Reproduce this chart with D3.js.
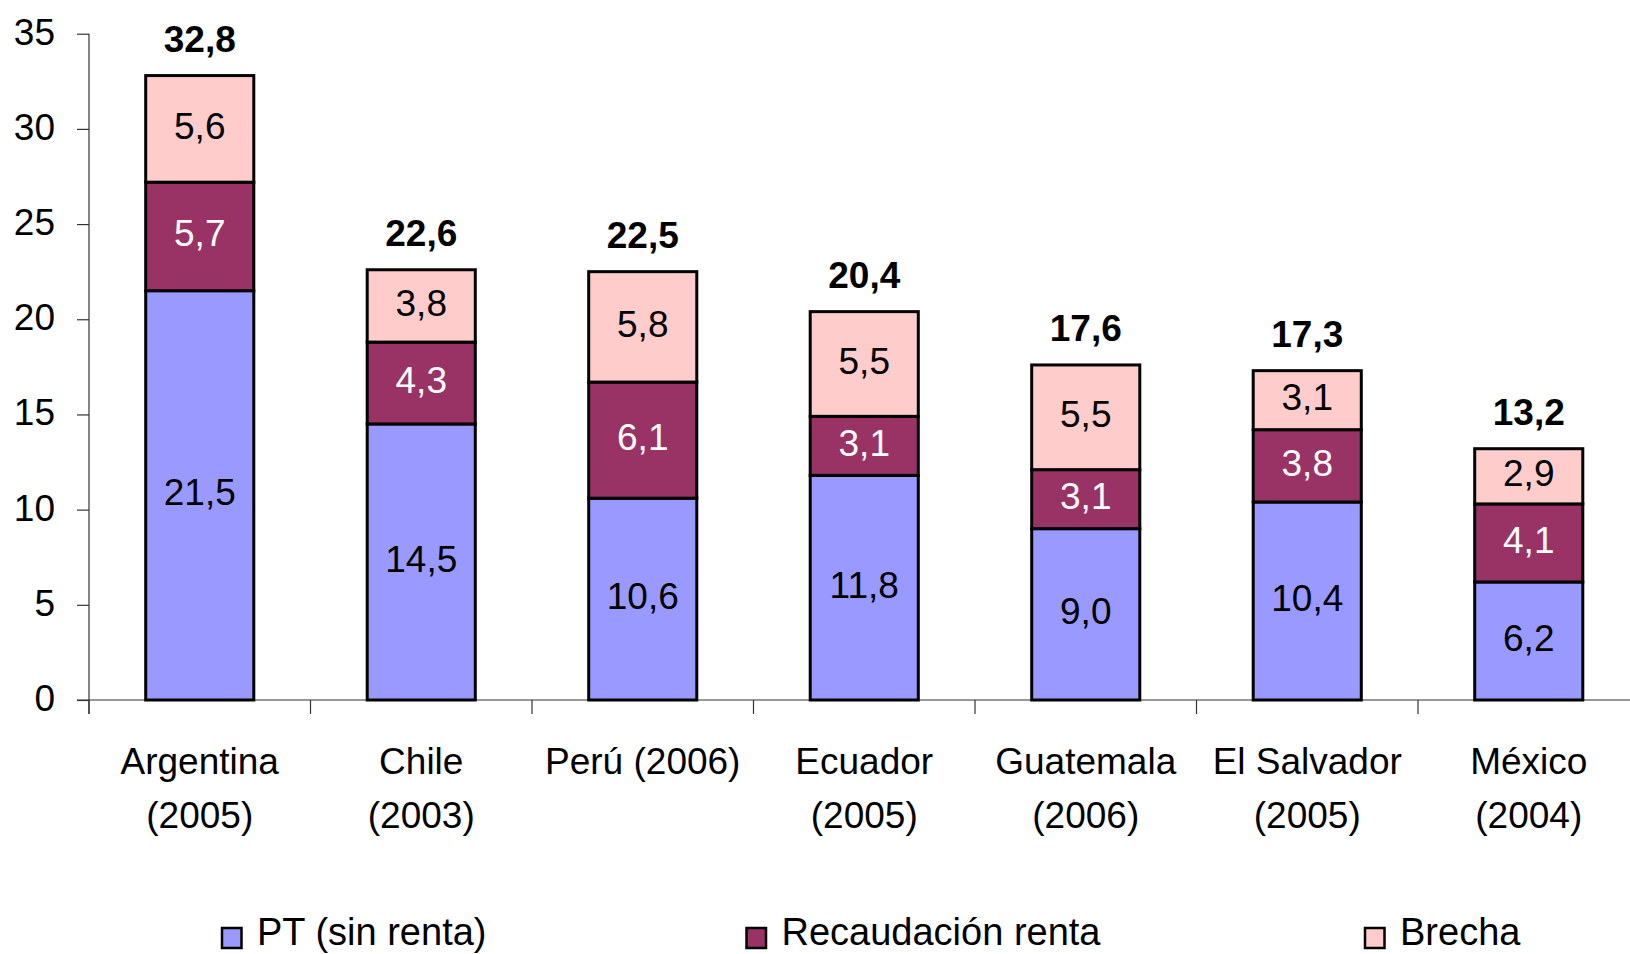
<!DOCTYPE html>
<html>
<head>
<meta charset="utf-8">
<script src="https://cdn.jsdelivr.net/npm/d3@7"></script>
<style>
  html, body { margin: 0; padding: 0; background: #fff; }
  svg { display: block; font-family: "Liberation Sans", Arial, sans-serif; }
</style>
</head>
<body>
<svg id="chart" width="1630" height="954"></svg>
<script>
// ---- data ----
const categories = ["Argentina (2005)", "Chile (2003)", "Perú (2006)", "Ecuador (2005)", "Guatemala (2006)", "El Salvador (2005)", "México (2004)"];
const categoryLines = [["Argentina", "(2005)"], ["Chile", "(2003)"], ["Perú (2006)"], ["Ecuador", "(2005)"], ["Guatemala", "(2006)"], ["El Salvador", "(2005)"], ["México", "(2004)"]];
const seriesNames = ["PT (sin renta)", "Recaudación renta", "Brecha"];
const ptSinRenta = [21.5, 14.5, 10.6, 11.8, 9.0, 10.4, 6.2];
const recaudacionRenta = [5.7, 4.3, 6.1, 3.1, 3.1, 3.8, 4.1];
const brecha = [5.6, 3.8, 5.8, 5.5, 5.5, 3.1, 2.9];
const totals = [32.8, 22.6, 22.5, 20.4, 17.6, 17.3, 13.2];
const yTicks = [0, 5, 10, 15, 20, 25, 30, 35];

// ---- styles ----
const colors = ["#9999FF", "#993366", "#FFCCCC"];
const labelColors = ["#000", "#fff", "#000"];
const fontSize = 37;

const svg = d3.select("#chart");
const x0 = 89, yZero = 700, yTop = 33.7;
const step = 221.5;

const x = d3.scaleBand().domain(categories).range([x0, x0 + step * categories.length]).padding(0);
const y = d3.scaleLinear().domain([0, 35]).range([yZero, yTop]);
const barW = x.bandwidth() * 0.488;

const fmt = v => d3.format(".1f")(v).replace(".", ",");

// stacked data
const table = categories.map((c, i) => ({ cat: c, s0: ptSinRenta[i], s1: recaudacionRenta[i], s2: brecha[i] }));
const stack = d3.stack().keys(["s0", "s1", "s2"])(table);

// ---- y axis ----
const yAxis = d3.axisLeft(y).tickValues(yTicks).tickSize(12).tickPadding(22).tickFormat(d => d);
const gy = svg.append("g").attr("transform", `translate(${x0},0)`).call(yAxis);
gy.select(".domain").remove();
gy.selectAll(".tick line").attr("stroke", "#333").attr("stroke-width", 1.2);
gy.selectAll(".tick text").attr("font-size", fontSize).attr("fill", "#000").attr("dy", "0.28em")
  .attr("font-family", "Liberation Sans, Arial, sans-serif");
svg.append("line").attr("x1", x0).attr("x2", x0).attr("y1", yTop).attr("y2", yZero + 14)
  .attr("stroke", "#333").attr("stroke-width", 1.2);

// ---- x axis ----
svg.append("line").attr("x1", x0 - 12).attr("x2", 1630).attr("y1", yZero).attr("y2", yZero)
  .attr("stroke", "#333").attr("stroke-width", 1.2);
const boundaries = categories.map(c => x(c)).concat([x(categories[categories.length - 1]) + x.bandwidth()]);
svg.selectAll("line.xtick").data(boundaries).enter().append("line").attr("class", "xtick")
  .attr("x1", d => d).attr("x2", d => d).attr("y1", yZero).attr("y2", yZero + 14)
  .attr("stroke", "#333").attr("stroke-width", 1.2);

// category labels
const catG = svg.selectAll("text.cat").data(categories).enter().append("text").attr("class", "cat")
  .attr("x", d => x(d) + x.bandwidth() / 2).attr("y", 774)
  .attr("text-anchor", "middle").attr("font-size", fontSize).attr("fill", "#000");
catG.each(function (d, i) {
  const t = d3.select(this);
  categoryLines[i].forEach((ln, k) => {
    t.append("tspan").attr("x", x(d) + x.bandwidth() / 2).attr("dy", k === 0 ? 0 : 54).text(ln);
  });
});

// ---- bars ----
stack.forEach((layer, si) => {
  const g = svg.append("g");
  g.selectAll("rect").data(layer).enter().append("rect")
    .attr("x", d => x(d.data.cat) + (x.bandwidth() - barW) / 2)
    .attr("y", d => y(d[1]))
    .attr("width", barW)
    .attr("height", d => y(d[0]) - y(d[1]))
    .attr("fill", colors[si])
    .attr("stroke", "#000").attr("stroke-width", 3);
});
stack.forEach((layer, si) => {
  svg.append("g").selectAll("text").data(layer).enter().append("text")
    .attr("x", d => x(d.data.cat) + x.bandwidth() / 2)
    .attr("y", d => (y(d[0]) + y(d[1])) / 2 - 3)
    .attr("dy", "0.35em")
    .attr("text-anchor", "middle").attr("font-size", fontSize)
    .attr("fill", labelColors[si])
    .text(d => fmt(d[1] - d[0]));
});

// totals
svg.selectAll("text.total").data(categories).enter().append("text").attr("class", "total")
  .attr("x", d => x(d) + x.bandwidth() / 2)
  .attr("y", (d, i) => y(totals[i]) - 24)
  .attr("text-anchor", "middle").attr("font-size", fontSize).attr("font-weight", "bold").attr("fill", "#000")
  .text((d, i) => fmt(totals[i]));

// ---- legend ----
const legendX = [222, 746.5, 1365];
const lg = svg.selectAll("g.leg").data(seriesNames).enter().append("g").attr("class", "leg")
  .attr("transform", (d, i) => `translate(${legendX[i]},928)`);
lg.append("rect").attr("x", 0).attr("y", 0).attr("width", 19.5).attr("height", 20)
  .attr("fill", (d, i) => colors[i]).attr("stroke", "#000").attr("stroke-width", 2.5);
lg.append("text").attr("x", 35).attr("y", 17).attr("font-size", 38).attr("fill", "#000").text(d => d);
</script>
</body>
</html>
